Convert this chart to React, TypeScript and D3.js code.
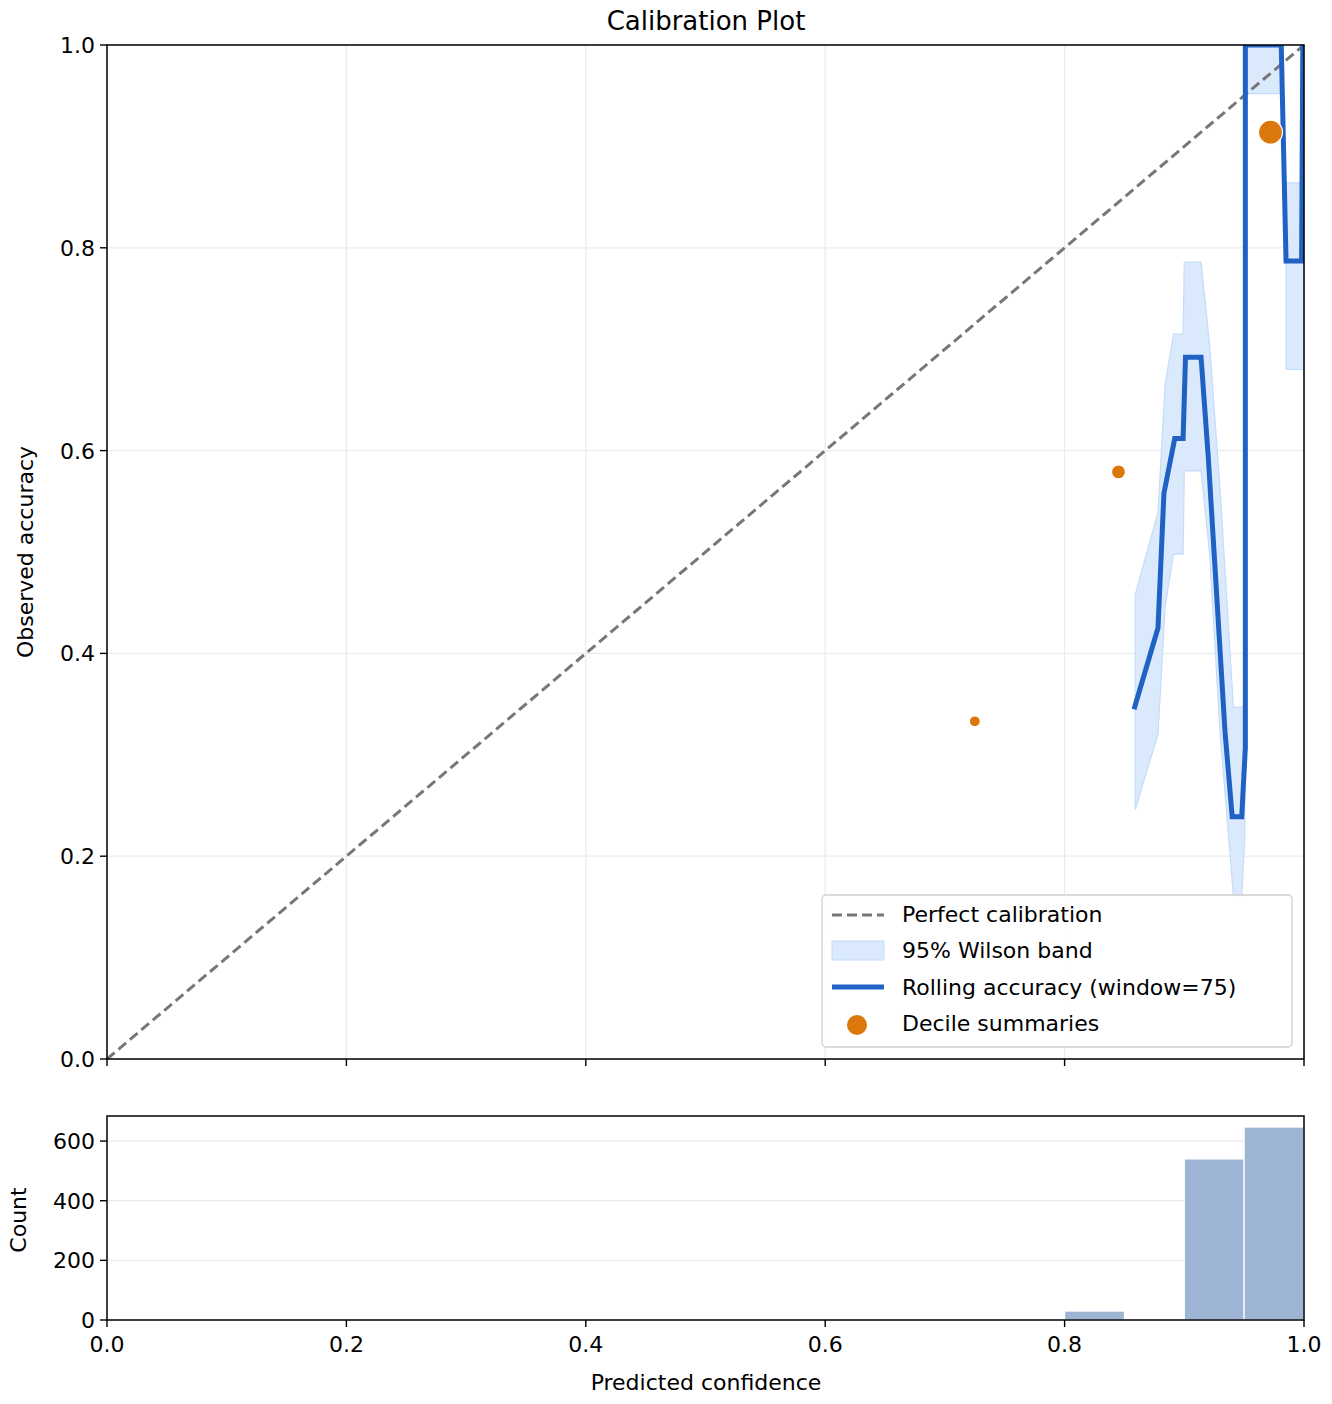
import React from "react";
import * as d3 from "d3";

const rollX = [0.858, 0.878, 0.883, 0.892, 0.899, 0.901, 0.914, 0.92, 0.934, 0.94, 0.948, 0.951, 0.951, 0.981, 0.985, 0.998, 0.999];
const rollY = [0.345, 0.425, 0.558, 0.612, 0.612, 0.692, 0.692, 0.594, 0.323, 0.239, 0.239, 0.307, 1.0, 1.0, 0.787, 0.787, 1.0];

// band segments (null = gap)
const bandX = [0.859, 0.878, 0.884, 0.891, 0.899, 0.9, 0.914, 0.921, 0.93, 0.941, 0.948, 0.9505, null, 0.951, 0.981, null, 0.985, 1.0];
const bandLo = [0.246, 0.32, 0.446, 0.498, 0.498, 0.58, 0.58, 0.5, 0.32, 0.161, 0.161, 0.216, null, 0.952, 0.952, null, 0.68, 0.68];
const bandHi = [0.458, 0.539, 0.665, 0.715, 0.715, 0.786, 0.786, 0.706, 0.56, 0.347, 0.347, 0.347, null, 1.0, 1.0, null, 0.864, 0.864];

const decX = [0.725, 0.845, 0.972];
const decY = [0.333, 0.579, 0.914];
const decR = [5.5, 7, 12];

const binStart = [0.8, 0.9, 0.95];
const binCount = [30, 540, 647];

const ticks = [0, 0.2, 0.4, 0.6, 0.8, 1.0];
const countTicks = [0, 200, 400, 600];

const F = "DejaVu Sans";
const FS = 22;

export default function App() {
  const L = 107, R = 1304;
  const x = d3.scaleLinear().domain([0, 1]).range([L, R]);
  const y = d3.scaleLinear().domain([0, 1]).range([1059, 45]);
  const yc = d3.scaleLinear().domain([0, 684]).range([1320, 1116]);

  const roll = rollX.map((v, i) => [v, rollY[i]] as [number, number]);
  const band = bandX.map((v, i) => ({ x: v, lo: bandLo[i], hi: bandHi[i] }));
  const area = d3.area<any>().defined((d) => d.x !== null)
    .x((d) => x(d.x)).y0((d) => y(d.lo)).y1((d) => y(d.hi));
  const line = d3.line().x((d) => x(d[0])).y((d) => y(d[1]));

  return (
    <svg width={1332} height={1404} style={{ position: "absolute", left: 0, top: 0 }} fontFamily={F}>
      <rect width={1332} height={1404} fill="#fff" />
      <text x={706} y={30} textAnchor="middle" fontSize={26}>Calibration Plot</text>
      {ticks.map((t) => (
        <g key={t}>
          <line x1={x(t)} x2={x(t)} y1={45} y2={1059} stroke="#ebebeb" strokeWidth={1.2} />
          <line x1={L} x2={R} y1={y(t)} y2={y(t)} stroke="#ebebeb" strokeWidth={1.2} />
        </g>
      ))}
      <path d={area(band) || ""} fill="#dbe9fd" stroke="#c4dcfb" strokeWidth={1.2} />
      <line x1={x(0)} y1={y(0)} x2={x(1)} y2={y(1)} stroke="#777" strokeWidth={3} strokeDasharray="10,5" />
      <clipPath id="cp"><rect x={L} y={45} width={R - L} height={1014} /></clipPath>
      <path d={line(roll) || ""} fill="none" stroke="#1f62c4" strokeWidth={5} strokeLinejoin="miter" clipPath="url(#cp)" />
      {decX.map((v, i) => (
        <circle key={i} cx={x(v)} cy={y(decY[i])} r={decR[i]} fill="#db780b" stroke="#fff" strokeWidth={1.2} />
      ))}
      <rect x={L} y={45} width={R - L} height={1014} fill="none" stroke="#000" strokeWidth={1.5} />
      {ticks.map((t) => (
        <g key={"t" + t}>
          <line x1={x(t)} x2={x(t)} y1={1059} y2={1066} stroke="#000" strokeWidth={1.4} />
          <line x1={L - 7} x2={L} y1={y(t)} y2={y(t)} stroke="#000" strokeWidth={1.4} />
          <text x={L - 12} y={y(t) + 8} textAnchor="end" fontSize={FS}>{t.toFixed(1)}</text>
        </g>
      ))}
      <text transform="translate(33,552) rotate(-90)" textAnchor="middle" fontSize={FS}>Observed accuracy</text>
      <rect x={822} y={895} width={470} height={152} rx={4} fill="#fff" fillOpacity={0.85} stroke="#d0d0d0" strokeWidth={1.3} />
      <line x1={832} x2={884} y1={915} y2={915} stroke="#777" strokeWidth={3} strokeDasharray="10,5" />
      <text x={902} y={922} fontSize={FS}>Perfect calibration</text>
      <rect x={832} y={941} width={52} height={19} fill="#dbe9fd" stroke="#c4dcfb" />
      <text x={902} y={958} fontSize={FS}>95% Wilson band</text>
      <line x1={832} x2={884} y1={987} y2={987} stroke="#1f62c4" strokeWidth={5} />
      <text x={902} y={995} fontSize={FS}>Rolling accuracy (window=75)</text>
      <circle cx={857} cy={1025} r={10} fill="#db780b" />
      <text x={902} y={1031} fontSize={FS}>Decile summaries</text>
      {countTicks.map((c) => (
        <g key={"c" + c}>
          <line x1={L} x2={R} y1={yc(c)} y2={yc(c)} stroke="#ebebeb" strokeWidth={1.2} />
          <line x1={L - 7} x2={L} y1={yc(c)} y2={yc(c)} stroke="#000" strokeWidth={1.4} />
          <text x={L - 12} y={yc(c) + 8} textAnchor="end" fontSize={FS}>{c}</text>
        </g>
      ))}
      {binStart.map((b, i) => (
        <rect key={i} x={x(b)} y={yc(binCount[i])} width={x(b + 0.05) - x(b)} height={yc(0) - yc(binCount[i])}
          fill="#9db4d4" stroke="#fff" strokeWidth={1.2} />
      ))}
      <rect x={L} y={1116} width={R - L} height={204} fill="none" stroke="#000" strokeWidth={1.5} />
      {ticks.map((t) => (
        <g key={"b" + t}>
          <line x1={x(t)} x2={x(t)} y1={1320} y2={1327} stroke="#000" strokeWidth={1.4} />
          <text x={x(t)} y={1352} textAnchor="middle" fontSize={FS}>{t.toFixed(1)}</text>
        </g>
      ))}
      <text x={706} y={1390} textAnchor="middle" fontSize={FS}>Predicted confidence</text>
      <text transform="translate(26,1220) rotate(-90)" textAnchor="middle" fontSize={FS}>Count</text>
    </svg>
  );
}
